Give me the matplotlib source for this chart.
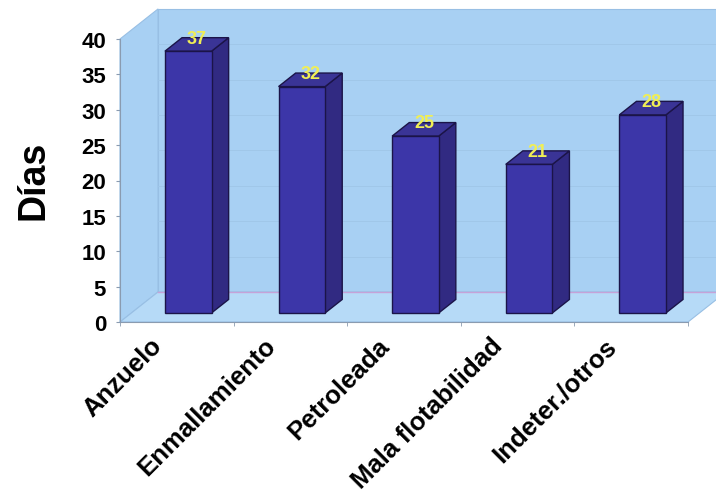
import matplotlib

matplotlib.use("Agg")

import matplotlib.pyplot as plt
import numpy as np
from matplotlib.patches import Polygon
from matplotlib.transforms import ScaledTranslation

plt.rcParams["font.family"] = ["Liberation Sans", "DejaVu Sans"]

# datos
categorias = ["Anzuelo", "Enmallamiento", "Petroleada", "Mala flotabilidad", "Indeter./otros"]
dias = [37, 32, 25, 21, 28]
y_ticks = [0, 5, 10, 15, 20, 25, 30, 35, 40]

C_WALL = "#a8d0f3"
C_FLOOR = "#b6daf7"
C_WALL_EDGE = "#98bfe4"
C_GRID = "#9fc6e8"
C_BASE = "#c6a2d8"
C_FRONT = "#3c36a8"
C_SIDE = "#312a82"
C_TOP = "#3a3496"
C_EDGE = "#1b1448"
C_VALUE = "#f0ee55"
C_AXIS = "#8a9bb0"

# vector de profundidad (en unidades de datos) y posicion de las barras
DX, DY = 0.335, 4.25
FRONT, BACK = 0.30, 0.75
BAR_W = 0.41


def poly(ax, pts, fc, ec="none", lw=0.0, z=1):
    ax.add_patch(Polygon(pts, closed=True, facecolor=fc, edgecolor=ec,
                         linewidth=lw, zorder=z, clip_on=False))


def main():
    fig = plt.figure(figsize=(7.16, 5.02), dpi=100)
    ax = fig.add_axes([120 / 716, 179 / 502, 568 / 716, 283 / 502])

    x = np.arange(1, len(dias) + 1)
    x0, x1 = 0.5, len(dias) + 0.5
    ymax = y_ticks[-1]
    ax.set_xlim(x0, x1)
    ax.set_ylim(0, ymax)
    ax.patch.set_visible(False)
    for side in ("top", "right"):
        ax.spines[side].set_visible(False)
    for side in ("left", "bottom"):
        ax.spines[side].set_color(C_AXIS)
        ax.spines[side].set_linewidth(0.8)

    # paredes y piso
    poly(ax, [(x0 + DX, DY), (x1 + DX, DY), (x1 + DX, ymax + DY), (x0 + DX, ymax + DY)],
         C_WALL, C_WALL_EDGE, 0.8, 0)
    poly(ax, [(x0, 0), (x0 + DX, DY), (x0 + DX, ymax + DY), (x0, ymax)],
         C_WALL, C_WALL_EDGE, 0.8, 0)
    poly(ax, [(x0, 0), (x1, 0), (x1 + DX, DY), (x0 + DX, DY)],
         C_FLOOR, C_WALL_EDGE, 0.8, 0.5)

    for v in y_ticks[1:-1]:
        ax.plot([x0 + DX, x1 + DX], [v + DY, v + DY], color=C_GRID,
                lw=0.6, zorder=0.6, clip_on=False)
    ax.plot([x0 + DX, x1 + DX], [DY, DY], color=C_BASE, lw=1.0, zorder=0.7, clip_on=False)

    # barras: cara frontal con ax.bar, laterales y tapas como poligonos
    bars = ax.bar(x + FRONT * DX, dias, width=BAR_W, bottom=FRONT * DY,
                  color=C_FRONT, edgecolor=C_EDGE, linewidth=1.0, zorder=4, clip_on=False)
    ddx, ddy = (BACK - FRONT) * DX, (BACK - FRONT) * DY
    for b, v in zip(bars, dias):
        left = b.get_x()
        right = left + b.get_width()
        yb = b.get_y()
        yt = yb + b.get_height()
        poly(ax, [(right, yb), (right + ddx, yb + ddy), (right + ddx, yt + ddy), (right, yt)],
             C_SIDE, C_EDGE, 1.0, 3)
        poly(ax, [(left, yt), (right, yt), (right + ddx, yt + ddy), (left + ddx, yt + ddy)],
             C_TOP, C_EDGE, 1.0, 3)
        ax.text((left + right) / 2 + ddx / 2, yt + ddy / 2 + 0.9, f"{v}",
                ha="center", va="center", fontsize=13, fontweight="bold",
                color=C_VALUE, zorder=6)

    # ejes
    ax.set_yticks(y_ticks)
    ax.set_yticklabels([str(t) for t in y_ticks], fontsize=16, fontweight="bold")
    ax.tick_params(axis="y", length=3, color=C_AXIS, pad=7)

    ax.set_xticks(x)
    ax.set_xticklabels(categorias, fontsize=18.5, fontweight="bold")
    ax.set_xticks(np.arange(x0, x1 + 0.01, 1.0), minor=True)
    ax.tick_params(axis="x", which="major", length=0, pad=8)
    ax.tick_params(axis="x", which="minor", length=3, color=C_AXIS)
    shift = ScaledTranslation(-27 / 100, 0, fig.dpi_scale_trans)
    for lab in ax.get_xticklabels():
        lab.set_rotation(45)
        lab.set_ha("right")
        lab.set_rotation_mode("anchor")
        lab.set_transform(lab.get_transform() + shift)

    fig.text(34 / 716, 1 - 180 / 502, "Días", rotation=90, fontsize=27,
             fontweight="bold", ha="center", va="center")

    fig.savefig("out.png", dpi=100, facecolor="white")
    plt.close(fig)


if __name__ == "__main__":
    main()
